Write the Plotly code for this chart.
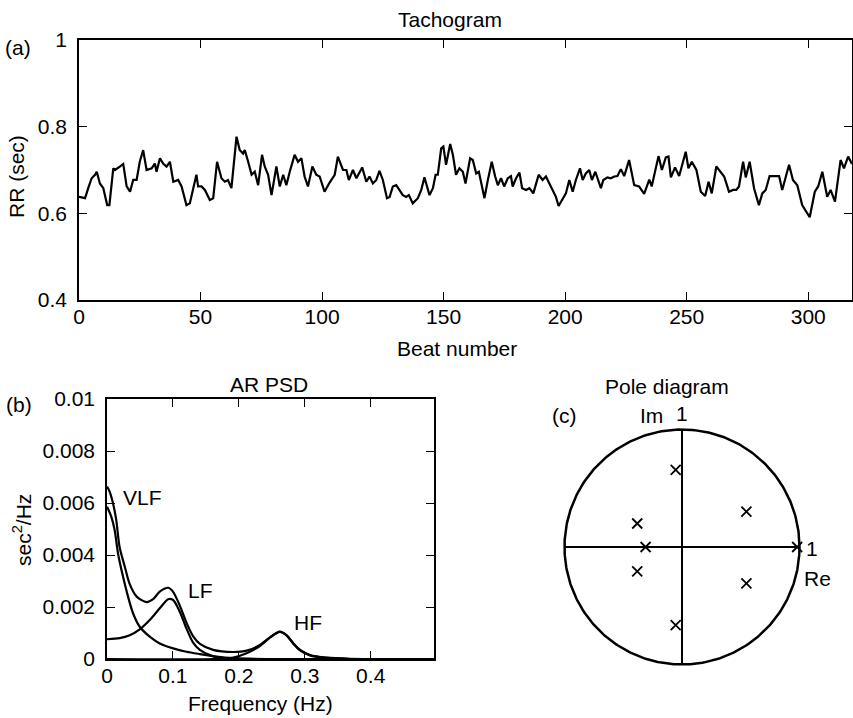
import numpy as np
import plotly.graph_objects as go

W, H = 853, 718
FONT = "Liberation Sans, Arial, Helvetica, sans-serif"
FS = 21

# ---------------- Tachogram data (beat number, RR in sec) ----------------
beat = [0, 2.5, 3.8, 5.2, 6.6, 7.3, 8.6, 10, 11.6, 12.5, 14.1, 14.8, 16.8, 18.2, 19.6, 21, 22.3, 23.7,
        25, 26.4, 27.8, 29.9, 31.2, 31.9, 33.3, 34.6, 36, 37.4, 38.8, 40.8, 42.2, 44.2, 45.6, 47, 48.3,
        49, 50.4, 51.8, 53.8, 55.2, 56.8, 58.6, 60, 61.3, 62.7, 64.8, 66.1, 67.5, 68.2, 69.6, 71, 72.3,
        73.7, 75.3, 76.4, 77.8, 79.2, 81.2, 82.6, 84, 85.3, 86.7, 88.7, 90.1, 91.5, 92.8, 94.2, 96, 97.6,
        99, 101, 103.1, 105.2, 106.5,
        108.6, 110, 111, 112.7, 114.1, 116.5, 118.2, 119.5, 120.9, 122.3, 123.6, 125, 126.7, 127.8,
        129.1, 130.5, 131.9, 133.2, 134.6, 135.7, 137.3, 139.4, 140.8, 142.1, 144.2, 145.6, 146.7, 147.6,
        149, 149.9, 151, 152.7, 153.8, 155.1, 156.5, 157.9, 159, 160.9, 162, 163.4, 164.5, 166.8, 168.2,
        169.8, 171.2, 172.3, 173.6, 174.9, 176.4, 177.7, 178.4, 179.8, 181.2, 182.3, 183.9, 185.3, 186.9,
        189.1, 190.7, 192.1, 193.5, 195.1, 196.2, 197.3, 199, 200.3, 201.7, 203.1, 204.4, 206.1, 207.2,
        208.5,
        209.9, 211, 212.4, 214.7, 215.7, 217.4, 218.8, 220.2, 221.5, 222.9, 224.3, 226.3, 228.4, 230.4,
        232.5, 234.6, 235.6, 238.4, 239.8, 241.4, 242.5, 243.5, 245.2, 246.9, 249.6, 250.7, 252.1, 254,
        255.8, 257.6, 259, 260.3, 262.2, 263.3, 265.4, 267.4, 269.1, 270.4, 271.5, 273.2, 274.3, 275.9,
        277.7, 279.7, 281.1, 282.5, 284.1, 286.6, 288, 289.3, 292.1, 293.7, 295.5, 297.5, 299.2, 300.6,
        302.7, 304.1, 305.8, 307.8, 309.2, 311, 313.3, 314.7, 316.4, 318]
rr = [0.638, 0.635, 0.658, 0.681, 0.689, 0.696, 0.669, 0.658, 0.619, 0.619, 0.704, 0.700, 0.708, 0.714,
      0.662, 0.650, 0.677, 0.677, 0.719, 0.746, 0.700, 0.704, 0.715, 0.696, 0.727, 0.715, 0.708, 0.719,
      0.673, 0.677, 0.662, 0.619, 0.623, 0.658, 0.689, 0.662, 0.662, 0.654, 0.631, 0.635, 0.719, 0.681,
      0.673, 0.677, 0.658, 0.777, 0.746, 0.738, 0.746, 0.719, 0.689, 0.696, 0.665, 0.735, 0.708, 0.689,
      0.642, 0.708, 0.662, 0.689, 0.665, 0.696, 0.735, 0.719, 0.727, 0.685, 0.662, 0.708, 0.689, 0.685,
      0.650, 0.671, 0.689, 0.731,
      0.700, 0.700, 0.677, 0.700, 0.681, 0.706, 0.673, 0.685, 0.669, 0.677, 0.698, 0.677, 0.635, 0.638,
      0.662, 0.665, 0.654, 0.642, 0.638, 0.642, 0.623, 0.635, 0.654, 0.683, 0.642, 0.658, 0.689, 0.689,
      0.750, 0.754, 0.712, 0.760, 0.735, 0.689, 0.704, 0.696, 0.669, 0.727, 0.723, 0.692, 0.696, 0.635,
      0.677, 0.719, 0.685, 0.665, 0.681, 0.662, 0.681, 0.686, 0.662, 0.681, 0.694, 0.658, 0.654, 0.658,
      0.646, 0.689, 0.677, 0.685, 0.669, 0.650, 0.638, 0.617, 0.635, 0.646, 0.677, 0.650, 0.677, 0.704,
      0.677, 0.692,
      0.700, 0.677, 0.696, 0.658, 0.677, 0.683, 0.681, 0.685, 0.686, 0.702, 0.686, 0.723, 0.665, 0.662,
      0.645, 0.678, 0.662, 0.732, 0.700, 0.729, 0.731, 0.683, 0.706, 0.686, 0.742, 0.704, 0.719, 0.700,
      0.650, 0.640, 0.673, 0.646, 0.708, 0.700, 0.685, 0.650, 0.654, 0.654, 0.662, 0.719, 0.683, 0.719,
      0.658, 0.619, 0.646, 0.654, 0.686, 0.686, 0.686, 0.654, 0.712, 0.677, 0.665, 0.619, 0.604, 0.591,
      0.650, 0.662, 0.696, 0.638, 0.654, 0.627, 0.723, 0.704, 0.731, 0.714]
tach_xticks = [0, 50, 100, 150, 200, 250, 300]
tach_yticks = [0.4, 0.6, 0.8, 1.0]
tach_yticktext = ["0.4", "0.6", "0.8", "1"]

# ---------------- AR PSD data ----------------
f_total = [0, 0.004, 0.009, 0.014, 0.019, 0.027, 0.034, 0.045, 0.060, 0.070, 0.080, 0.093, 0.100, 0.110,
           0.121, 0.131, 0.141, 0.161, 0.191, 0.212, 0.232, 0.247, 0.262, 0.272, 0.283, 0.293, 0.308,
           0.333, 0.369, 0.496]
p_total = [0.00663, 0.00644, 0.0060, 0.00535, 0.00432, 0.00355, 0.00291, 0.0024, 0.00219, 0.0023,
           0.00259, 0.00274, 0.00259, 0.00208, 0.00137, 0.00086, 0.00058, 0.00035, 0.00027, 0.00032,
           0.00054, 0.00083, 0.00105, 0.00092, 0.0006, 0.00035, 0.00015, 0.00005, 0.00001, 0.0]
f_vlf = [0, 0.0066, 0.0116, 0.0167, 0.0243, 0.0319, 0.0395, 0.0496, 0.0648, 0.080, 0.1003, 0.1205,
         0.1408, 0.1661, 0.1914, 0.242, 0.496]
p_vlf = [0.00586, 0.00547, 0.00496, 0.00406, 0.00317, 0.0024, 0.00176, 0.00124, 0.00086, 0.0006,
         0.00041, 0.00028, 0.00019, 0.00009, 0.00003, 0.0, 0.0]
f_lf = [0, 0.0192, 0.0344, 0.0496, 0.0648, 0.080, 0.0927, 0.1003, 0.1104, 0.1205, 0.1306, 0.1408,
        0.156, 0.1711, 0.1914, 0.496]
p_lf = [0.00076, 0.0008, 0.00091, 0.00114, 0.0015, 0.00195, 0.0023, 0.00227, 0.00182, 0.00118,
        0.00063, 0.00035, 0.00015, 0.00005, 0.0, 0.0]
f_hf = [0, 0.161, 0.1914, 0.2116, 0.2319, 0.2471, 0.2623, 0.2724, 0.2825, 0.2927, 0.3078, 0.3332,
        0.3686, 0.496]
p_hf = [0.0, 0.0, 0.00005, 0.00022, 0.0005, 0.00082, 0.00104, 0.00091, 0.00059, 0.00033, 0.00014,
        0.00004, 0.0, 0.0]
psd_xticks = [0, 0.1, 0.2, 0.3, 0.4]
psd_xticktext = ["0", "0.1", "0.2", "0.3", "0.4"]
psd_yticks = [0, 0.002, 0.004, 0.006, 0.008, 0.01]
psd_yticktext = ["0", "0.002", "0.004", "0.006", "0.008", "0.01"]

# ---------------- Pole diagram data ----------------
pole_re = [-0.054, -0.054, 0.548, 0.548, -0.381, -0.381, -0.31, 0.98]
pole_im = [0.656, -0.665, 0.301, -0.31, 0.20, -0.207, 0.0, 0.0]


def px(x):
    return x / W


def py(y):
    return 1 - y / H


fig = go.Figure()
LC = "black"

# Tachogram
fig.add_trace(go.Scatter(x=beat, y=rr, mode="lines", line=dict(color=LC, width=2.2),
                         xaxis="x", yaxis="y", showlegend=False, hoverinfo="skip"))

# PSD curves
for fx, fy in [(f_total, p_total), (f_vlf, p_vlf), (f_lf, p_lf), (f_hf, p_hf)]:
    fig.add_trace(go.Scatter(x=fx, y=fy, mode="lines",
                             line=dict(color=LC, width=2.2, shape="spline", smoothing=0.8),
                             xaxis="x2", yaxis="y2", showlegend=False, hoverinfo="skip"))

# Pole diagram: unit circle + axes + poles
theta = np.linspace(0, 2 * np.pi, 361)
fig.add_trace(go.Scatter(x=np.cos(theta), y=np.sin(theta), mode="lines",
                         line=dict(color=LC, width=2.5), xaxis="x3", yaxis="y3",
                         showlegend=False, hoverinfo="skip"))
fig.add_trace(go.Scatter(x=[-1, 1], y=[0, 0], mode="lines", line=dict(color=LC, width=2),
                         xaxis="x3", yaxis="y3", showlegend=False, hoverinfo="skip"))
fig.add_trace(go.Scatter(x=[0, 0], y=[-1, 1], mode="lines", line=dict(color=LC, width=2),
                         xaxis="x3", yaxis="y3", showlegend=False, hoverinfo="skip"))
fig.add_trace(go.Scatter(x=pole_re, y=pole_im, mode="markers",
                         marker=dict(symbol="x-thin", size=10, line=dict(color=LC, width=1.8)),
                         xaxis="x3", yaxis="y3", showlegend=False, hoverinfo="skip"))

axis_common = dict(showline=True, linecolor=LC, linewidth=1.5, mirror="ticks", ticks="inside",
                   ticklen=8, tickwidth=1.2, tickcolor=LC, showgrid=False, zeroline=False,
                   automargin=False, tickfont=dict(family=FONT, size=FS, color=LC))

# pole axes pixel geometry
cx, cy, r = 682, 547, 117.5
ext = 1.1

fig.update_layout(
    template="none",
    width=W, height=H, margin=dict(l=0, r=0, t=0, b=0, pad=0), autosize=False,
    paper_bgcolor="white", plot_bgcolor="white",
    font=dict(family=FONT, size=FS, color=LC),
    xaxis=dict(domain=[px(79), px(852)], range=[0, 318], tickvals=tach_xticks,
               anchor="y", ticklabelstandoff=-3, **axis_common),
    yaxis=dict(domain=[py(300), py(40)], range=[0.4, 1.0], tickvals=tach_yticks,
               ticktext=tach_yticktext, anchor="x", ticklabelstandoff=6, **axis_common),
    xaxis2=dict(domain=[px(107), px(434)], range=[0, 0.496], tickvals=psd_xticks,
                ticktext=psd_xticktext, anchor="y2", ticklabelstandoff=-3, **axis_common),
    yaxis2=dict(domain=[py(659), py(399)], range=[0, 0.01], tickvals=psd_yticks,
                ticktext=psd_yticktext, anchor="x2", ticklabelstandoff=6, **axis_common),
    xaxis3=dict(domain=[px(cx - ext * r), px(cx + ext * r)], range=[-ext, ext], visible=False,
                anchor="y3", automargin=False),
    yaxis3=dict(domain=[py(cy + ext * r), py(cy - ext * r)], range=[-ext, ext], visible=False,
                anchor="x3", automargin=False),
)

ann = []


def txt(s, x, y, angle=0, xanchor="center"):
    ann.append(dict(text=s, x=px(x), y=py(y), xref="paper", yref="paper", showarrow=False,
                    xanchor=xanchor, yanchor="middle", textangle=angle,
                    font=dict(family=FONT, size=FS, color=LC)))


txt("Tachogram", 450, 19)
txt("(a)", 18, 48)
txt("RR (sec)", 16, 177, angle=-90)
txt("Beat number", 457, 348)
txt("AR PSD", 269, 384)
txt("(b)", 19, 404)
txt("sec<sup>2</sup>/Hz", 22, 530, angle=-90)
txt("Frequency (Hz)", 260, 703)
txt("VLF", 142, 497)
txt("LF", 200, 590)
txt("HF", 308, 622)
txt("Pole diagram", 667, 386)
txt("(c)", 564, 415)
txt("Im", 651, 415)
txt("1", 682, 413)
txt("1", 812, 548)
txt("Re", 817, 578)

fig.update_layout(annotations=ann)
fig.write_html("out.html", config={"displayModeBar": False},
               post_script="document.body.style.margin='0';document.body.style.overflow='hidden';")
